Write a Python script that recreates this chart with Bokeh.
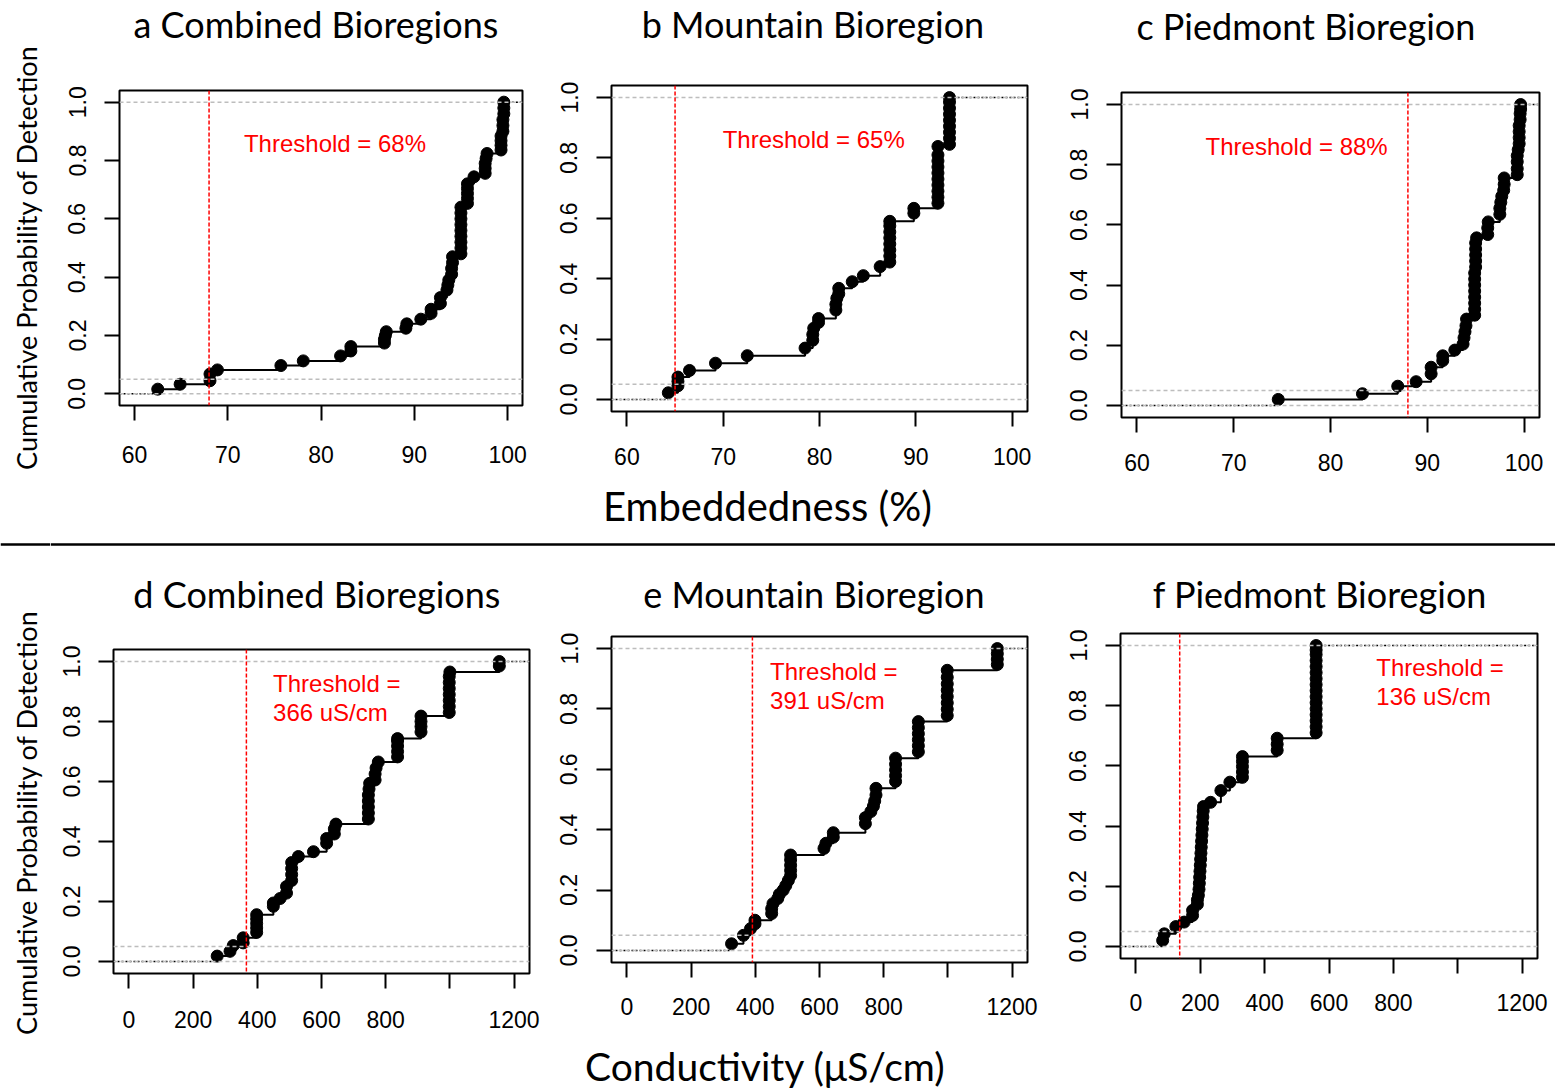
import math
from bokeh.plotting import figure
from bokeh.models import Range1d, FixedTicker, PrintfTickFormatter, Span, Spacer
from bokeh.layouts import column, row
from bokeh.embed import file_html
from bokeh.resources import INLINE
from bokeh.core.properties import value

# ---------------- data ----------------
titles_top = ["a  Combined Bioregions", "b  Mountain Bioregion", "c  Piedmont Bioregion"]
titles_bot = ["d  Combined Bioregions", "e  Mountain Bioregion", "f  Piedmont Bioregion"]
xlabel_top = "Embeddedness (%)"
xlabel_bot = "Conductivity (\u03bcS/cm)"
ylabel = "Cumulative Probability of Detection"

emb_ticks = [60, 70, 80, 90, 100]
cond_ticks = [0, 200, 400, 600, 800, 1000, 1200]
prob_ticks = [0.0, 0.2, 0.4, 0.6, 0.8, 1.0]
ref_levels = [0.0, 0.05, 1.0]

# a  Combined, embeddedness
xa = [62.5, 64.9, 68.1, 68.1, 68.9, 75.7, 78.1, 82.1, 83.2, 83.2,
      86.8, 86.8, 86.9, 87.0, 89.1, 89.2, 90.7, 91.8, 91.8, 92.8,
      92.8, 93.5, 93.6, 93.7, 94.0, 94.0, 94.1, 94.1, 95.0, 95.0,
      95.0, 95.0, 95.0, 95.0, 95.0, 95.0, 95.0, 95.7, 95.7, 95.7,
      95.7, 95.7, 96.4, 97.6, 97.6, 97.6, 97.7, 97.8, 99.3, 99.3,
      99.3, 99.3, 99.5, 99.5, 99.5, 99.6, 99.6, 99.6]
ya = [0.016, 0.033, 0.045, 0.068, 0.082, 0.097, 0.113, 0.130, 0.147, 0.162,
      0.174, 0.187, 0.200, 0.213, 0.225, 0.240, 0.256, 0.276, 0.290, 0.310,
      0.330, 0.356, 0.373, 0.390, 0.410, 0.430, 0.450, 0.470, 0.480, 0.500,
      0.520, 0.540, 0.560, 0.580, 0.600, 0.620, 0.640, 0.653, 0.670, 0.687,
      0.704, 0.720, 0.744, 0.756, 0.773, 0.790, 0.807, 0.824, 0.836, 0.852,
      0.868, 0.884, 0.900, 0.920, 0.940, 0.960, 0.980, 1.000]

# b  Mountain, embeddedness
xb = [64.3, 65.3, 65.3, 65.3, 66.5, 69.2, 72.5, 78.5, 79.3, 79.3,
      79.4, 79.9, 79.9, 81.7, 81.7, 81.8, 82.0, 82.0, 83.4, 84.55,
      86.3, 87.3, 87.3, 87.3, 87.3, 87.3, 87.3, 87.3, 87.3, 89.8,
      89.8, 92.3, 92.3, 92.3, 92.3, 92.3, 92.3, 92.3, 92.3, 92.3,
      92.3, 93.5, 93.5, 93.5, 93.5, 93.5, 93.5, 93.5, 93.5, 93.5]
yb = [0.022, 0.045, 0.060, 0.074, 0.096, 0.120, 0.145, 0.170, 0.196, 0.215,
      0.236, 0.255, 0.268, 0.296, 0.315, 0.335, 0.350, 0.368, 0.390, 0.410,
      0.440, 0.455, 0.475, 0.495, 0.515, 0.535, 0.555, 0.575, 0.590, 0.617,
      0.633, 0.650, 0.670, 0.690, 0.710, 0.730, 0.750, 0.770, 0.790, 0.810,
      0.838, 0.845, 0.865, 0.885, 0.905, 0.925, 0.945, 0.965, 0.985, 1.000]

# c  Piedmont, embeddedness
xc = [74.6, 83.3, 86.95, 88.85, 90.4, 90.4, 91.6, 91.6, 92.85, 93.7,
      93.8, 93.9, 94.0, 94.06, 94.9, 94.9, 94.9, 94.9, 94.9, 94.9,
      94.9, 94.9, 95.0, 95.0, 95.0, 95.0, 95.0, 95.1, 96.25, 96.25,
      96.3, 97.5, 97.5, 97.6, 97.7, 97.9, 97.95, 97.95, 99.3, 99.3,
      99.3, 99.3, 99.4, 99.5, 99.5, 99.5, 99.5, 99.6, 99.6, 99.65,
      99.65]
yc = [0.020, 0.039, 0.064, 0.079, 0.105, 0.127, 0.149, 0.165, 0.184, 0.204,
      0.225, 0.245, 0.265, 0.287, 0.300, 0.320, 0.340, 0.360, 0.380, 0.400,
      0.420, 0.440, 0.460, 0.480, 0.500, 0.520, 0.540, 0.557, 0.568, 0.590,
      0.610, 0.635, 0.655, 0.675, 0.695, 0.715, 0.735, 0.756, 0.767, 0.787,
      0.810, 0.830, 0.850, 0.870, 0.890, 0.910, 0.930, 0.950, 0.970, 0.985,
      1.000]

# d  Combined, conductivity
xd = [275, 315, 325, 356, 356, 398, 398, 398, 398, 398,
      450, 450, 471, 491, 491, 507, 507, 507, 507, 528,
      575, 616, 616, 640, 640, 645, 746, 746, 746, 746,
      746, 748, 750, 767, 767, 770, 777, 837, 837, 837,
      837, 837, 910, 910, 910, 910, 998, 998, 998, 998,
      998, 998, 998, 1000, 1154, 1154]
yd = [0.018, 0.034, 0.053, 0.062, 0.079, 0.097, 0.112, 0.127, 0.142, 0.156,
      0.184, 0.195, 0.210, 0.228, 0.250, 0.270, 0.290, 0.310, 0.330, 0.350,
      0.366, 0.394, 0.410, 0.425, 0.442, 0.458, 0.475, 0.495, 0.515, 0.535,
      0.555, 0.575, 0.594, 0.605, 0.625, 0.645, 0.665, 0.682, 0.700, 0.718,
      0.735, 0.743, 0.765, 0.783, 0.800, 0.818, 0.830, 0.850, 0.870, 0.890,
      0.910, 0.930, 0.950, 0.965, 0.985, 1.000]

# e  Mountain, conductivity
xe = [326, 363, 385, 399, 399, 451, 451, 455, 470, 475,
      487, 495, 503, 510, 510, 510, 510, 510, 614, 620,
      643, 643, 743, 743, 760, 768, 772, 776, 776, 837,
      837, 837, 837, 837, 908, 908, 908, 908, 908, 908,
      998, 998, 998, 998, 998, 998, 998, 998, 1154, 1154,
      1154, 1154]
ye = [0.022, 0.050, 0.072, 0.088, 0.100, 0.122, 0.138, 0.155, 0.172, 0.186,
      0.200, 0.215, 0.232, 0.248, 0.265, 0.282, 0.300, 0.316, 0.338, 0.355,
      0.375, 0.390, 0.420, 0.440, 0.460, 0.478, 0.495, 0.515, 0.537, 0.560,
      0.579, 0.598, 0.617, 0.637, 0.658, 0.678, 0.698, 0.718, 0.738, 0.758,
      0.778, 0.799, 0.820, 0.841, 0.862, 0.883, 0.905, 0.928, 0.947, 0.965,
      0.983, 1.000]

# f  Piedmont, conductivity
xf = [83, 88, 124, 150, 176, 176, 191, 191, 194, 196,
      197, 198, 199, 200, 201, 202, 203, 204, 205, 206,
      207, 208, 209, 210, 232, 264, 292, 331, 331, 331,
      331, 331, 439, 439, 439, 560, 560, 560, 560, 560,
      560, 560, 560, 560, 560, 560, 560, 560, 560, 560,
      560]
yf = [0.020, 0.042, 0.066, 0.081, 0.103, 0.120, 0.140, 0.155, 0.170, 0.190,
      0.210, 0.230, 0.250, 0.270, 0.290, 0.310, 0.330, 0.350, 0.370, 0.390,
      0.410, 0.430, 0.450, 0.465, 0.479, 0.518, 0.546, 0.562, 0.580, 0.598,
      0.615, 0.631, 0.652, 0.672, 0.692, 0.710, 0.730, 0.750, 0.770, 0.790,
      0.810, 0.830, 0.850, 0.870, 0.890, 0.910, 0.930, 0.950, 0.970, 0.985,
      1.000]

thresholds = [68, 65, 88, 366, 391, 136]
thr_text = [["Threshold = 68%"], ["Threshold = 65%"], ["Threshold = 88%"],
            ["Threshold =", "366 uS/cm"], ["Threshold =", "391 uS/cm"], ["Threshold =", "136 uS/cm"]]

# ---------------- styling ----------------
TICK_FONT = "Liberation Sans"
TXT_FONT = "Lato"
EMB_RANGE = (58.4, 101.6)
COND_RANGE = (-48, 1248)
Y_RANGE = (-0.04, 1.04)
LEFT_W = 50


def strip(width, height):
    s = figure(width=width, height=height, x_range=Range1d(0, width), y_range=Range1d(height, 0),
               min_border=0, toolbar_location=None, output_backend="svg",
               x_axis_location=None, y_axis_location=None, title=None)
    s.outline_line_color = None
    s.grid.visible = False
    return s


def panel(xs, ys, kind, thr, lines, tpos, geom, xstand, ystand):
    left, fw, right, top, fh, bottom = geom
    xr = Range1d(*EMB_RANGE) if kind == "emb" else Range1d(*COND_RANGE)
    p = figure(frame_width=fw, frame_height=fh, min_border_left=left, min_border_right=right,
               min_border_top=top, min_border_bottom=bottom, x_range=xr, y_range=Range1d(*Y_RANGE),
               toolbar_location=None, output_backend="svg", title=None)
    p.grid.visible = False
    p.outline_line_color = "black"
    p.outline_line_width = 2
    p.outline_line_alpha = 1
    p.xaxis.ticker = FixedTicker(ticks=emb_ticks if kind == "emb" else cond_ticks)
    if kind != "emb":
        p.xaxis.major_label_overrides = {1000: ""}
    p.yaxis.ticker = FixedTicker(ticks=prob_ticks)
    p.yaxis.formatter = PrintfTickFormatter(format="%.1f")
    p.yaxis.major_label_orientation = "vertical"
    for ax in p.axis:
        ax.axis_line_color = None
        ax.major_tick_line_color = "black"
        ax.major_tick_line_width = 2
        ax.major_tick_out = 15
        ax.major_tick_in = 0
        ax.minor_tick_line_color = None
        ax.major_label_text_font = TICK_FONT
        ax.major_label_text_font_size = "23px"
        ax.major_label_text_color = "black"
    p.xaxis.major_label_standoff = xstand
    p.yaxis.major_label_standoff = ystand
    for lvl in ref_levels:
        p.add_layout(Span(location=lvl, dimension="width", line_color="#bdbdbd",
                          line_dash="4 3", line_width=1.5))
    p.add_layout(Span(location=thr, dimension="height", line_color="red",
                      line_dash="4 2", line_width=1.5))
    p.line([xr.start, xs[0]], [0, 0], line_color="black", line_dash="2 2", line_width=1.5)
    p.line([xs[-1], xr.end], [1, 1], line_color="black", line_dash="2 2", line_width=1.5)
    p.step(xs, ys, mode="after", line_color="black", line_width=2)
    p.scatter(xs, ys, size=12, color="black")
    tx, ty, talign = tpos
    for i, t in enumerate(lines):
        p.text(x=[tx], y=[ty - i * 0.097], text=[t], text_color="red",
               text_font=value(TICK_FONT), text_font_size="24px",
               text_align=talign, text_baseline="middle")
    return p


def shifted(fig, dy):
    if dy > 0:
        return column(Spacer(width=fig.frame_width, height=dy), fig)
    return column(fig)


# geometry: (min_border_left, frame_width, min_border_right, min_border_top, frame_height, min_border_bottom)
fa = panel(xa, ya, "emb", thresholds[0], thr_text[0], (81.5, 0.86, "center"),
           (69, 403, 28, 5, 315, 75), 25, 19)
fb = panel(xb, yb, "emb", thresholds[1], thr_text[1], (79.4, 0.86, "center"),
           (61, 416, 23, 5, 326, 69), 21, 19)
fc = panel(xc, yc, "emb", thresholds[2], thr_text[2], (76.5, 0.86, "center"),
           (71, 418, 16, 5, 325, 63), 21, 19)
fd = panel(xd, yd, "cond", thresholds[3], thr_text[3], (449, 0.927, "left"),
           (63, 416, 21, 5, 324, 67), 22, 19)
fe = panel(xe, ye, "cond", thresholds[4], thr_text[4], (446, 0.925, "left"),
           (61, 416, 23, 5, 326, 78), 20, 19)
ff = panel(xf, yf, "cond", thresholds[5], thr_text[5], (747, 0.928, "left"),
           (70, 417, 18, 5, 325, 82), 20, 19)

row1 = row(shifted(fa, 5), shifted(fb, 0), shifted(fc, 7))
row2 = row(shifted(fd, 19), shifted(fe, 6), shifted(ff, 3))

W = 1555 - LEFT_W

# title strip
st = strip(W, 80)
st.text(x=[320 - LEFT_W, 817 - LEFT_W, 1310 - LEFT_W], y=[23, 23, 25], text=titles_top,
        text_font=value(TXT_FONT), text_font_size="36px", text_align="center",
        text_baseline="middle", text_color="black")

# middle strip: x label, divider, bottom titles
sm = strip(W, 145)
sm.text(x=[767 - LEFT_W], y=[25], text=[xlabel_top], text_font=value(TXT_FONT), text_font_size="40px",
        text_align="center", text_baseline="middle", text_color="black")
sm.add_layout(Span(location=64, dimension="width", line_color="black", line_width=2.5))
sm.text(x=[321 - LEFT_W, 818 - LEFT_W, 1324 - LEFT_W], y=[113, 113, 113], text=titles_bot,
        text_font=value(TXT_FONT), text_font_size="36px", text_align="center",
        text_baseline="middle", text_color="black")

# bottom strip
sb = strip(W, 51)
sb.text(x=[765 - LEFT_W], y=[25], text=[xlabel_bot], text_font=value(TXT_FONT), text_font_size="39px",
        text_align="center", text_baseline="middle", text_color="black")

# left strip: y-axis titles and divider piece
sl = strip(LEFT_W, 1091)
sl.text(x=[26, 26], y=[257, 822], text=[ylabel, ylabel], angle=math.pi / 2,
        text_font=value(TXT_FONT), text_font_size="27px", text_align="center",
        text_baseline="middle", text_color="black")
sl.add_layout(Span(location=544, dimension="width", line_color="black", line_width=2.5))

layout = row(sl, column(st, row1, sm, row2, sb))

open("out.html", "w").write(file_html(layout, INLINE))
